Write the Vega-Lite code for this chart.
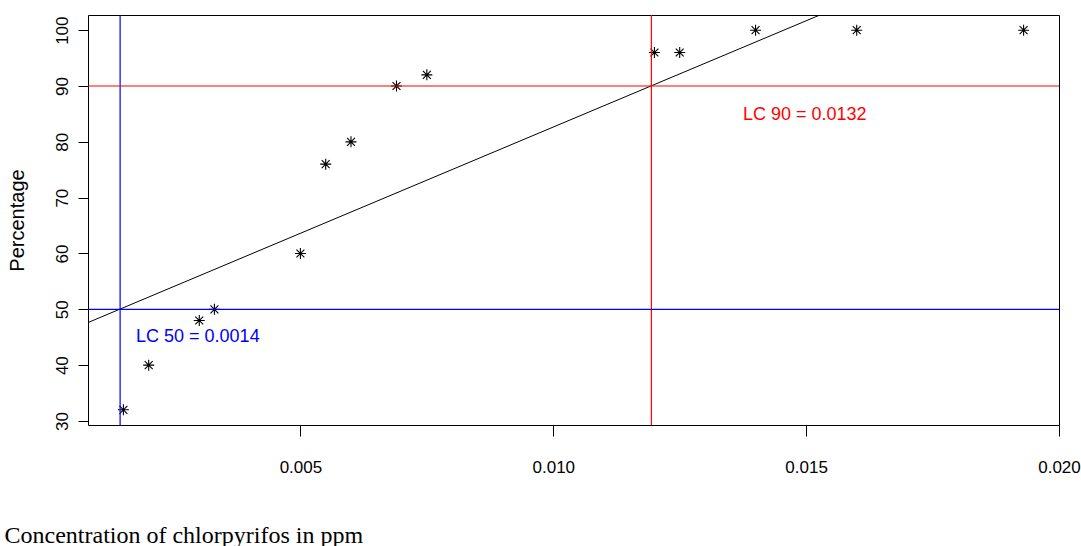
{
  "$schema": "https://vega.github.io/schema/vega-lite/v6.json",
  "autosize": "none",
  "width": 971,
  "height": 410,
  "padding": {"left": 88, "top": 15, "right": 22, "bottom": 121},
  "background": "white",
  "config": {
    "view": {"stroke": "black", "strokeWidth": 1},
    "axis": {"domain": false, "grid": false, "tickColor": "black", "labelColor": "black", "titleColor": "black", "titleFontWeight": "normal"}
  },
  "datasets": {
    "points": [
      {"conc": 0.0015, "pct": 32},
      {"conc": 0.0020, "pct": 40},
      {"conc": 0.0030, "pct": 48},
      {"conc": 0.0033, "pct": 50},
      {"conc": 0.0050, "pct": 60},
      {"conc": 0.0055, "pct": 76},
      {"conc": 0.0060, "pct": 80},
      {"conc": 0.0069, "pct": 90},
      {"conc": 0.0075, "pct": 92},
      {"conc": 0.0120, "pct": 96},
      {"conc": 0.0125, "pct": 96},
      {"conc": 0.0140, "pct": 100},
      {"conc": 0.0160, "pct": 100},
      {"conc": 0.0193, "pct": 100}
    ],
    "ref": [
      {"level": "LC50", "conc": 0.001435, "pct": 50},
      {"level": "LC90", "conc": 0.01194, "pct": 90}
    ],
    "labels": [
      {"level": "LC50", "conc": 0.00175, "pct": 45.06, "label": "LC 50 =  0.0014"},
      {"level": "LC90", "conc": 0.01375, "pct": 84.79, "label": "LC 90 =  0.0132"}
    ],
    "fit": [
      {"conc": 0.0008, "pct": 47.63},
      {"conc": 0.0156, "pct": 103.97}
    ]
  },
  "layer": [
    {
      "data": {"name": "points"},
      "mark": {"type": "point", "shape": "M-1,0L1,0M0,-1L0,1M-0.72,-0.72L0.72,0.72M-0.72,0.72L0.72,-0.72", "filled": false, "stroke": "black", "strokeWidth": 1.1, "size": 121, "opacity": 1},
      "encoding": {
        "x": {
          "field": "conc", "type": "quantitative",
          "scale": {"domain": [0.0008, 0.0200], "nice": false, "zero": false},
          "axis": {
            "values": [0.005, 0.010, 0.015, 0.020], "format": ".3f",
            "tickSize": 11, "labelPadding": 36, "labelBaseline": "alphabetic",
            "labelFont": "Liberation Sans", "labelFontSize": 17,
            "labelFlush": false, "labelOverlap": false, "labelBound": false,
            "title": "Concentration of chlorpyrifos in ppm",
            "titleFont": "Liberation Serif", "titleFontSize": 24,
            "titleX": -84, "titleY": 117, "titleAlign": "left", "titleAnchor": "start", "titleBaseline": "alphabetic"
          }
        },
        "y": {
          "field": "pct", "type": "quantitative",
          "scale": {"domain": [29.28, 102.72], "nice": false, "zero": false},
          "axis": {
            "values": [30, 40, 50, 60, 70, 80, 90, 100],
            "tickSize": 10, "labelPadding": 11, "labelAngle": -90, "labelAlign": "center", "labelBaseline": "alphabetic",
            "labelFont": "Liberation Sans", "labelFontSize": 17,
            "labelFlush": false, "labelOverlap": false, "labelBound": false,
            "title": "Percentage",
            "titleFont": "Liberation Sans", "titleFontSize": 20,
            "titleX": -65, "titleY": 205, "titleAngle": -90, "titleAlign": "center", "titleBaseline": "alphabetic"
          }
        }
      }
    },
    {
      "data": {"name": "fit"},
      "mark": {"type": "line", "color": "black", "strokeWidth": 1, "clip": true},
      "encoding": {
        "x": {"field": "conc", "type": "quantitative"},
        "y": {"field": "pct", "type": "quantitative"}
      }
    },
    {
      "data": {"name": "ref"},
      "mark": {"type": "rule", "strokeWidth": 1.2},
      "encoding": {
        "x": {"field": "conc", "type": "quantitative"},
        "color": {"field": "level", "type": "nominal", "scale": {"domain": ["LC50", "LC90"], "range": ["#0000ff", "#ff0000"]}, "legend": null}
      }
    },
    {
      "data": {"name": "ref"},
      "mark": {"type": "rule", "strokeWidth": 1.2},
      "encoding": {
        "y": {"field": "pct", "type": "quantitative"},
        "color": {"field": "level", "type": "nominal", "legend": null}
      }
    },
    {
      "data": {"name": "labels"},
      "mark": {"type": "text", "align": "left", "baseline": "middle", "font": "Liberation Sans", "fontSize": 18},
      "encoding": {
        "x": {"field": "conc", "type": "quantitative"},
        "y": {"field": "pct", "type": "quantitative"},
        "text": {"field": "label"},
        "color": {"field": "level", "type": "nominal", "legend": null}
      }
    }
  ]
}
